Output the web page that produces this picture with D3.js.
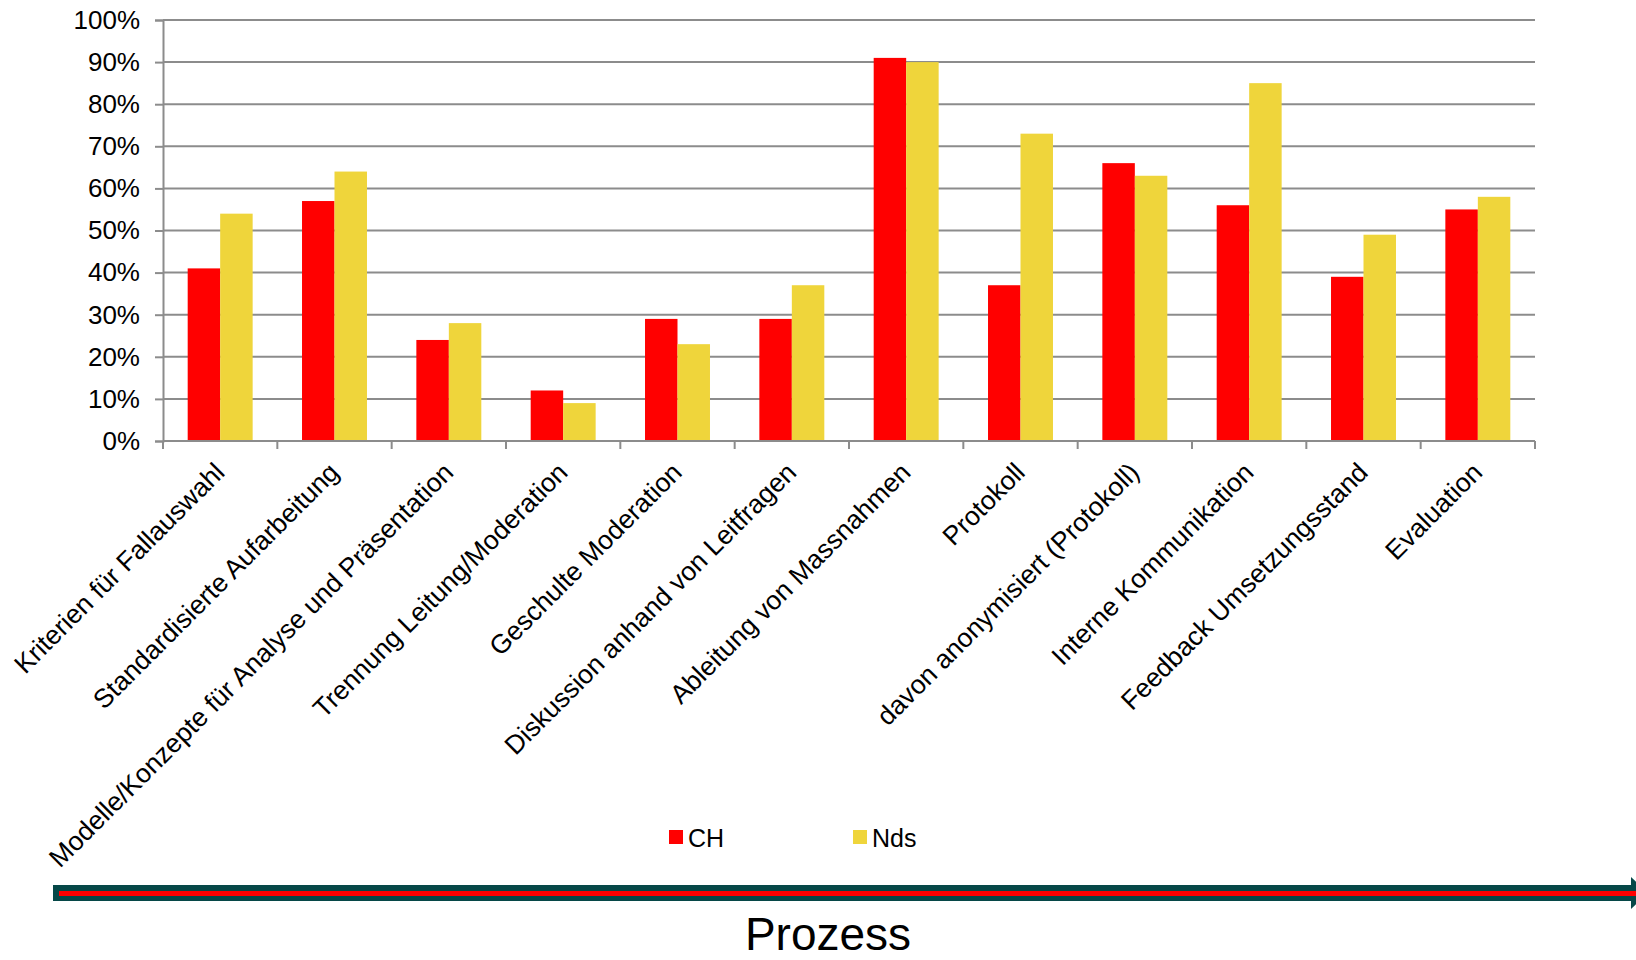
<!DOCTYPE html>
<html>
<head>
<meta charset="utf-8">
<script src="https://cdn.jsdelivr.net/npm/d3@7"></script>
<style>
  body { margin: 0; background: #fff; }
  text { font-family: "Liberation Sans", Arial, sans-serif; fill: #000; }
</style>
</head>
<body>
<div id="viz"></div>
<script>

// data
const categories = [
  "Kriterien für Fallauswahl",
  "Standardisierte Aufarbeitung",
  "Modelle/Konzepte für Analyse und Präsentation",
  "Trennung Leitung/Moderation",
  "Geschulte Moderation",
  "Diskussion anhand von Leitfragen",
  "Ableitung von Massnahmen",
  "Protokoll",
  "davon anonymisiert (Protokoll)",
  "Interne Kommunikation",
  "Feedback Umsetzungsstand",
  "Evaluation"
];
const seriesNames = ["CH", "Nds"];
const valuesCH  = [41, 57, 24, 12, 29, 29, 91, 37, 66, 56, 39, 55];
const valuesNds = [54, 64, 28,  9, 23, 37, 90, 73, 63, 85, 49, 58];
const yTicks = [0, 10, 20, 30, 40, 50, 60, 70, 80, 90, 100];
const axisTitle = "Prozess";

const colors = { CH: "#ff0000", Nds: "#efd53b" };

const W = 1636, H = 960;
const margin = { top: 20, right: 101, bottom: 519, left: 163 };   // plot box 163..1535, 20..441
const width = W - margin.left - margin.right,
      height = H - margin.top - margin.bottom;

const svg = d3.select("#viz").append("svg")
    .attr("width", W)
    .attr("height", H);

const g = svg.append("g")
    .attr("transform", `translate(${margin.left},${margin.top})`);

// scales
const x0 = d3.scaleBand().domain(categories).range([0, width]).padding(0);
const x1 = d3.scaleBand().domain(seriesNames).range([0, x0.bandwidth()])
    .paddingInner(0).paddingOuter(0.76);
const y = d3.scaleLinear().domain([0, 100]).range([height, 0]);

// grid lines
g.append("g")
  .selectAll("line")
  .data(yTicks.filter(d => d > 0))
  .join("line")
    .attr("x1", 0).attr("x2", width)
    .attr("y1", d => y(d)).attr("y2", d => y(d))
    .attr("stroke", "#8c8c8c")
    .attr("stroke-width", 2);

// bars
const rows = categories.map((c, i) => ({ cat: c, CH: valuesCH[i], Nds: valuesNds[i] }));

g.append("g")
  .selectAll("g")
  .data(rows)
  .join("g")
    .attr("transform", d => `translate(${x0(d.cat)},0)`)
  .selectAll("rect")
  .data(d => seriesNames.map(s => ({ key: s, value: d[s] })))
  .join("rect")
    .attr("x", d => x1(d.key))
    .attr("y", d => y(d.value))
    .attr("width", x1.bandwidth())
    .attr("height", d => height - y(d.value))
    .attr("fill", d => colors[d.key]);

// y axis
const yAxis = g.append("g")
    .call(d3.axisLeft(y).tickValues(yTicks).tickSize(8).tickPadding(15).tickFormat(d => d + "%"));
yAxis.select(".domain").attr("stroke", "#8c8c8c").attr("stroke-width", 2);
yAxis.selectAll(".tick line").attr("stroke", "#8c8c8c").attr("stroke-width", 2);
yAxis.selectAll(".tick text").attr("font-size", 26).attr("font-family", "Liberation Sans, Arial, sans-serif");

// x axis line and ticks at band edges
g.append("line")
    .attr("x1", 0).attr("x2", width)
    .attr("y1", height).attr("y2", height)
    .attr("stroke", "#8c8c8c").attr("stroke-width", 2);

const edges = categories.map(c => x0(c)).concat([width]);
g.append("g")
  .selectAll("line")
  .data(edges)
  .join("line")
    .attr("x1", d => d).attr("x2", d => d)
    .attr("y1", height).attr("y2", height + 8)
    .attr("stroke", "#8c8c8c").attr("stroke-width", 2);

// category labels, rotated
g.append("g")
  .selectAll("text")
  .data(categories)
  .join("text")
    .attr("transform", d => `translate(${x0(d) + x0.bandwidth() / 2 + 6},${height + 33}) rotate(-45)`)
    .attr("text-anchor", "end")
    .attr("font-size", 26.5)
    .text(d => d);

// legend
const legend = svg.append("g").attr("transform", "translate(669,830)");
const legX = [0, 184];
seriesNames.forEach((s, i) => {
  legend.append("rect")
      .attr("x", legX[i]).attr("y", 0)
      .attr("width", 14).attr("height", 14)
      .attr("fill", colors[s]);
  legend.append("text")
      .attr("x", legX[i] + 19).attr("y", 17)
      .attr("font-size", 25)
      .text(s);
});

// process arrow
const arrow = svg.append("g");
arrow.append("rect")
    .attr("x", 53).attr("y", 885)
    .attr("width", 1580).attr("height", 16)
    .attr("fill", "#064848");
arrow.append("path")
    .attr("d", "M1631,877 L1648,893 L1631,909 Z")
    .attr("fill", "#064848");
arrow.append("rect")
    .attr("x", 59).attr("y", 891)
    .attr("width", 1577).attr("height", 5)
    .attr("fill", "#ff0000");

svg.append("text")
    .attr("x", 828).attr("y", 950)
    .attr("text-anchor", "middle")
    .attr("font-size", 46)
    .text(axisTitle);

</script>
</body>
</html>
